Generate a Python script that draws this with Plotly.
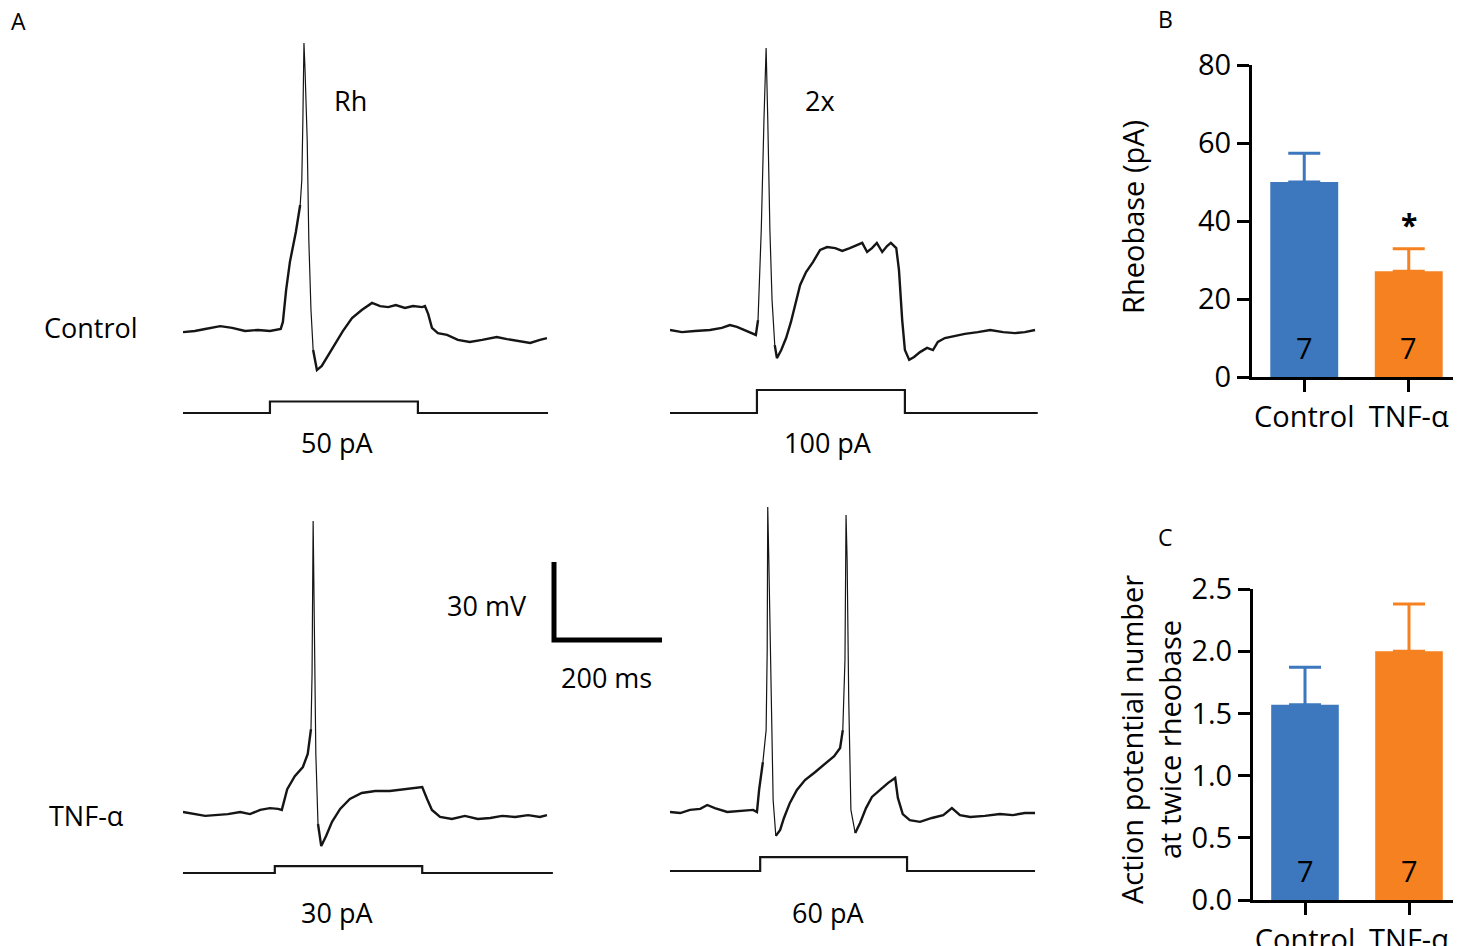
import plotly.graph_objects as go

# the page body keeps an 8 px margin, so the figure is drawn 8 px smaller and
# every position below is given in screen pixels and shifted back by PAGE_PAD
W, H = 1461, 946
PAGE_PAD = 8
FW, FH = W - PAGE_PAD, H - PAGE_PAD
FONT = "Open Sans"
BLUE = "#3D77BD"
ORANGE = "#F58120"

PX_MS = 0.54
PX_MV = 2.6
PX_PA = 0.23

# ---- panel A: membrane potential traces (ms, mV) ----
ctrl_rh_t = [0, 22, 41, 69, 91, 115, 139, 161, 181, 185, 191, 198, 209, 217, 220, 222, 224,
             226, 230, 233, 237, 241, 248, 257, 268, 281, 296, 313, 331, 350, 365, 380, 394,
             411, 426, 443, 448, 454, 461, 472, 489, 509, 531, 554, 581, 600, 620, 643, 661, 674]
ctrl_rh_v = [-60.8, -60.4, -59.6, -58.5, -59.2, -60.4, -60, -60.4, -59.6, -56.9, -44.6, -33.8,
             -22.3, -11.9, -2.3, 20.8, 50.4, 40, 13.1, -25.4, -52.3, -67.7, -75.4, -73.8, -70,
             -65.8, -60.4, -55.4, -52.3, -49.6, -50.8, -51.2, -50.4, -51.5, -50.8, -51.2, -50.8,
             -53.8, -59.2, -61.2, -61.9, -63.8, -64.6, -63.8, -62.7, -63.5, -64.2, -65, -63.8, -63.1]

ctrl_2x_t = [0, 22, 46, 74, 96, 111, 124, 139, 152, 159, 163, 169, 174, 178, 181, 185, 189, 194,
             198, 206, 215, 224, 231, 241, 252, 265, 278, 291, 306, 319, 333, 348, 356, 365, 374,
             383, 393, 402, 409, 419, 424, 430, 435, 443, 452, 463, 476, 487, 496, 509, 528, 546,
             570, 593, 617, 639, 657, 676]
ctrl_2x_v = [-60, -60.8, -60.4, -60, -59.2, -58.1, -58.8, -60, -61.2, -61.9, -56.2, -21.5, 20.8,
             48.5, 21.5, -21.5, -48.5, -65.8, -70.8, -67.7, -63.1, -56.9, -50.8, -42.7, -37.7,
             -33.8, -29.2, -28.1, -28.5, -29.6, -28.5, -27.3, -26.5, -30, -28.5, -26.5, -30, -27.7,
             -26.5, -28.5, -36.9, -56.2, -67.7, -71.5, -70.4, -68.5, -66.9, -67.7, -64.6, -63.1,
             -62.3, -61.5, -60.8, -60, -60.8, -61.2, -60.8, -60]

tnf_rh_t = [0, 22, 41, 59, 83, 106, 124, 143, 161, 176, 183, 193, 207, 222, 231, 237, 239, 241,
            243, 246, 250, 256, 265, 276, 291, 309, 331, 356, 383, 407, 430, 443, 452, 461, 476,
            498, 522, 546, 569, 591, 615, 639, 661, 674]
tnf_rh_v = [-60, -60.8, -61.5, -61.2, -60.8, -60, -60.8, -59.2, -58.5, -58.8, -59.2, -51.2, -46.2,
            -42.7, -37.7, -28.1, -6.9, 51.9, 23.8, -37.7, -64.6, -73.1, -69.2, -63.8, -58.8, -55,
            -52.7, -51.9, -51.9, -51.2, -50.8, -50.4, -55, -59.2, -61.9, -62.7, -61.5, -62.7,
            -62.3, -61.5, -61.9, -61.2, -61.9, -61.2]

tnf_2x_t = [0, 19, 37, 56, 69, 83, 106, 130, 154, 161, 165, 172, 178, 180, 181, 183, 187, 191,
            196, 204, 211, 222, 235, 250, 269, 287, 304, 315, 320, 324, 326, 328, 331, 335, 343,
            352, 363, 374, 389, 404, 417, 422, 431, 444, 463, 485, 506, 522, 537, 556, 583, 611,
            635, 657, 676]
tnf_2x_v = [-60, -60.4, -59.2, -58.8, -57.3, -58.5, -60, -59.6, -59.2, -60, -51.5, -40.8, -28.5,
            2.3, 57.3, 36.9, -16.9, -55.4, -69.2, -66.9, -62.3, -56.5, -51.5, -47.7, -44.6, -41.5,
            -38.5, -35.4, -28.5, -1.5, 54.2, 36.9, -16.9, -59.2, -68.1, -64.2, -58.5, -54.2, -51.5,
            -48.8, -46.9, -54.6, -60.8, -63.1, -63.8, -62.3, -61.2, -58.5, -61.2, -61.9, -61.5,
            -60.8, -61.2, -60.4, -60.4]

# fast spike phases (ms), drawn with a thin pen like the original recording
ctrl_rh_spikes = [(217, 241)]
ctrl_2x_spikes = [(163, 194)]
tnf_rh_spikes = [(237, 250)]
tnf_2x_spikes = [(172, 196), (320, 343)]

# ---- panel A: injected current steps (on ms, off ms, end ms, pA) ----
ctrl_rh_step = (161, 435, 676, 50)
ctrl_2x_step = (161, 435, 681, 100)
tnf_rh_step = (170, 443, 685, 30)
tnf_2x_step = (167, 439, 676, 60)

SCALE_MS = 200
SCALE_MV = 30

# ---- panels B and C ----
groups = ["Control", "TNF-α"]
rheobase_mean = [50.0, 27.1]
rheobase_sem = [7.4, 5.8]
ap_number_mean = [1.57, 2.0]
ap_number_sem = [0.30, 0.38]
n_cells = [7, 7]
colors = [BLUE, ORANGE]


def dom_x(left_px, width_px):
    a = (left_px - PAGE_PAD) / FW
    b = (left_px - PAGE_PAD + width_px) / FW
    return [max(a, 0), min(b, 1)]


def dom_y(bottom_px, height_px):
    a = 1 - (bottom_px - PAGE_PAD) / FH
    b = 1 - (bottom_px - PAGE_PAD - height_px) / FH
    return [max(a, 0), min(b, 1)]


def in_spike(t, windows):
    return any(a < t < b for a, b in windows)


fig = go.Figure()
layout = {}
annotations = []

V_RANGE = [-85, 60]
T_RANGE = [0, 700]
I_RANGE = [-20, 120]
INK = "#151515"

# (time, voltage, spikes, step, left px, px of -60 mV, px of 0 pA)
panels = [
    (ctrl_rh_t, ctrl_rh_v, ctrl_rh_spikes, ctrl_rh_step, 183, 330, 413),
    (ctrl_2x_t, ctrl_2x_v, ctrl_2x_spikes, ctrl_2x_step, 670, 330, 413),
    (tnf_rh_t, tnf_rh_v, tnf_rh_spikes, tnf_rh_step, 183, 812, 873),
    (tnf_2x_t, tnf_2x_v, tnf_2x_spikes, tnf_2x_step, 670, 812, 871),
]

hidden = dict(visible=False, showgrid=False, zeroline=False, fixedrange=True, automargin=False)
for k, (t, v, spikes, step, left, y60, y0) in enumerate(panels):
    va = 3 + k
    ca = 7 + k
    t_on, t_off, t_end, amp = step
    slow_v = [None if in_spike(ti, spikes) else vi for ti, vi in zip(t, v)]
    fast_t, fast_v = [], []
    for a, b in spikes:
        fast_t += [ti for ti in t if a <= ti <= b] + [None]
        fast_v += [vi for ti, vi in zip(t, v) if a <= ti <= b] + [None]
    fig.add_trace(go.Scatter(x=t, y=slow_v, mode="lines", connectgaps=False,
                             line=dict(color=INK, width=2.4),
                             xaxis=f"x{va}", yaxis=f"y{va}", showlegend=False, hoverinfo="skip"))
    fig.add_trace(go.Scatter(x=fast_t, y=fast_v, mode="lines", connectgaps=False,
                             line=dict(color=INK, width=1.2),
                             xaxis=f"x{va}", yaxis=f"y{va}", showlegend=False, hoverinfo="skip"))
    fig.add_trace(go.Scatter(x=[0, t_on, t_on, t_off, t_off, t_end], y=[0, 0, amp, amp, 0, 0],
                             mode="lines", line=dict(color=INK, width=2.2),
                             xaxis=f"x{ca}", yaxis=f"y{ca}", showlegend=False, hoverinfo="skip"))
    width_px = (T_RANGE[1] - T_RANGE[0]) * PX_MS
    vb = y60 + (-60 - V_RANGE[0]) * PX_MV
    layout[f"xaxis{va}"] = dict(domain=dom_x(left, width_px), range=T_RANGE, anchor=f"y{va}", **hidden)
    layout[f"yaxis{va}"] = dict(domain=dom_y(vb, (V_RANGE[1] - V_RANGE[0]) * PX_MV),
                                range=V_RANGE, anchor=f"x{va}", **hidden)
    ib = y0 - I_RANGE[0] * PX_PA
    layout[f"xaxis{ca}"] = dict(domain=dom_x(left, width_px), range=T_RANGE, anchor=f"y{ca}", **hidden)
    layout[f"yaxis{ca}"] = dict(domain=dom_y(ib, (I_RANGE[1] - I_RANGE[0]) * PX_PA),
                                range=I_RANGE, anchor=f"x{ca}", **hidden)

# scale bar
fig.add_trace(go.Scatter(x=[0, 0, SCALE_MS], y=[SCALE_MV, 0, 0], mode="lines",
                         line=dict(color="black", width=5),
                         xaxis="x11", yaxis="y11", showlegend=False, hoverinfo="skip"))
layout["xaxis11"] = dict(domain=dom_x(554 - 10 * PX_MS, 250 * PX_MS), range=[-10, 240],
                         anchor="y11", **hidden)
layout["yaxis11"] = dict(domain=dom_y(640 + 5 * PX_MV, 40 * PX_MV), range=[-5, 35],
                         anchor="x11", **hidden)

# bar panels
for ax, means, sems in [(1, rheobase_mean, rheobase_sem), (2, ap_number_mean, ap_number_sem)]:
    sfx = "" if ax == 1 else "2"
    for g, m, s, n, c in zip(groups, means, sems, n_cells, colors):
        fig.add_trace(go.Bar(
            x=[g], y=[m], width=0.65, marker=dict(color=c, line=dict(width=0)),
            error_y=dict(type="data", array=[s], arrayminus=[0], symmetric=False,
                         color=c, thickness=3, width=16),
            xaxis=f"x{sfx}", yaxis=f"y{sfx}", showlegend=False, hoverinfo="skip"))
        annotations.append(dict(x=g, y=0, xref=f"x{sfx}", yref=f"y{sfx}", text=str(n),
                                showarrow=False, yanchor="bottom", yshift=8,
                                font=dict(size=29, family=FONT, color="black")))

bar_axis = dict(showline=True, linewidth=3, linecolor="black", ticks="outside", ticklen=12,
                tickwidth=3, tickcolor="black", showgrid=False, zeroline=False, automargin=False,
                tickfont=dict(size=29, family=FONT, color="black"), fixedrange=True)
layout["xaxis"] = dict(domain=dom_x(1252, 209), anchor="y", range=[-0.5, 1.5],
                       type="category", **bar_axis)
layout["yaxis"] = dict(domain=dom_y(377, 312), anchor="x", range=[0, 80], dtick=20, **bar_axis)
layout["xaxis2"] = dict(domain=dom_x(1253, 208), anchor="y2", range=[-0.5, 1.5],
                        type="category", **bar_axis)
layout["yaxis2"] = dict(domain=dom_y(900, 311), anchor="x2", range=[0, 2.5], dtick=0.5,
                        tickformat=".1f", **bar_axis)


def label(text, xpx, ypx, size, angle=0, anchor="center"):
    return dict(x=(xpx - PAGE_PAD) / FW, y=1 - (ypx - PAGE_PAD) / FH, xref="paper", yref="paper",
                text=text, showarrow=False, textangle=angle, xanchor=anchor, yanchor="middle",
                font=dict(size=size, family=FONT, color="black"))


annotations += [
    label("A", 9, 21, 23, anchor="left"),
    label("B", 1165, 19, 23),
    label("C", 1165, 537, 23),
    label("Rh", 350, 100, 27),
    label("2x", 820, 100, 27),
    label("Control", 91, 327, 27),
    label("TNF-α", 86, 815, 27),
    label(f"{ctrl_rh_step[3]} pA", 337, 442, 27),
    label(f"{ctrl_2x_step[3]} pA", 828, 442, 27),
    label(f"{tnf_rh_step[3]} pA", 337, 912, 27),
    label(f"{tnf_2x_step[3]} pA", 828, 912, 27),
    label(f"{SCALE_MV} mV", 487, 605, 27),
    label(f"{SCALE_MS} ms", 606, 677, 27),
    label("Rheobase (pA)", 1132, 217, 29, -90),
    label("Action potential number<br>at twice rheobase", 1150, 740, 29, -90),
    dict(x=groups[1], y=rheobase_mean[1] + rheobase_sem[1], xref="x", yref="y", text="<b>*</b>",
         showarrow=False, yanchor="bottom", yshift=2,
         font=dict(size=30, family=FONT, color="black")),
]

fig.update_layout(
    width=FW, height=FH,
    margin=dict(l=0, r=0, t=0, b=0, autoexpand=False),
    paper_bgcolor="white", plot_bgcolor="rgba(0,0,0,0)",
    font=dict(family=FONT, color="black"),
    annotations=annotations,
    **layout,
)

fig.write_html("out.html")
